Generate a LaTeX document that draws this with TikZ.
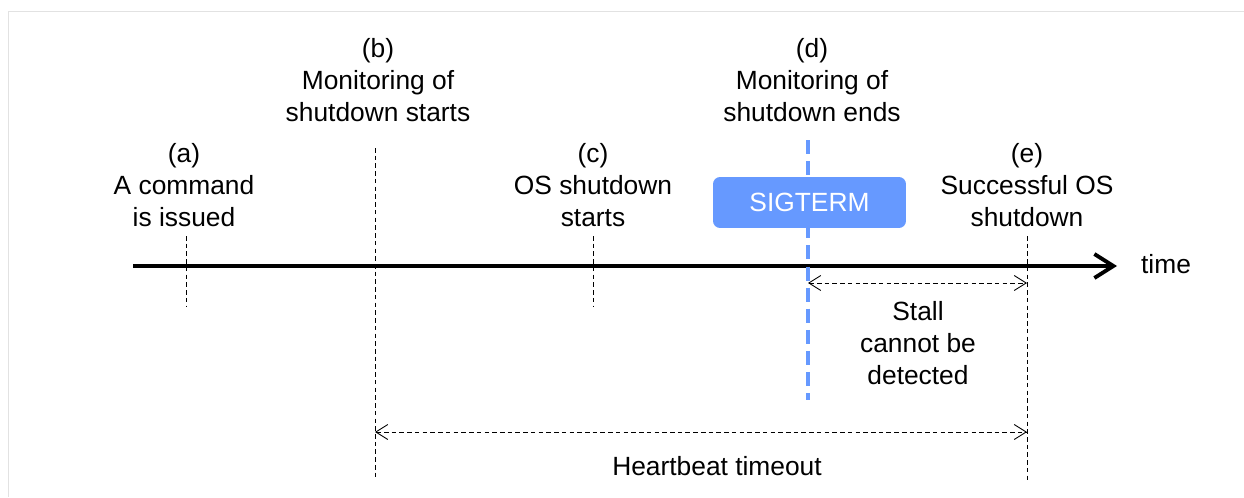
\documentclass[tikz,border=0pt]{standalone}
\usepackage{fontspec}
\setmainfont{Liberation Sans}
\usetikzlibrary{positioning,arrows.meta}
\definecolor{sigblue}{RGB}{102,153,255}
\definecolor{framegray}{RGB}{226,226,226}
\tikzset{
  timearrow/.style={-{Straight Barb[length=3.8mm,width=4.8mm]}, line width=2.2pt},
  tickline/.style={line width=0.5pt, dash pattern=on 2.6pt off 1.8pt},
  sigline/.style={sigblue, line width=1.9pt, dash pattern=on 8pt off 4pt},
  spanarrow/.style={{Straight Barb[length=2.4mm,width=3mm]}-{Straight Barb[length=2.4mm,width=3mm]}, line width=0.5pt, dash pattern=on 2.6pt off 1.8pt},
  eventlabel/.style={align=center, inner sep=0pt, font=\fontsize{15}{18.2}\selectfont},
  sigbox/.style={rounded corners=4pt, fill=sigblue, text=white, minimum width=3.86cm, minimum height=1.02cm, font=\fontsize{15}{18.2}\selectfont}
}

\begin{document}
\begin{tikzpicture}[x=0.02cm, y=-0.02cm]
  \useasboundingbox (0,0) rectangle (1244,497);
  \draw[framegray] (8,497) -- (8,11) -- (1244,11);

  % event labels
  \node[eventlabel] (la) at (184,185) {(a)\\A command\\is issued};
  \node[eventlabel] (lb) at (378,80) {(b)\\Monitoring of\\shutdown starts};
  \node[eventlabel] (lc) at (593,185) {(c)\\OS shutdown\\starts};
  \node[eventlabel] (ld) at (812,80) {(d)\\Monitoring of\\shutdown ends};
  \node[eventlabel] (le) at (1027,185) {(e)\\Successful OS\\shutdown};

  % tick lines
  \coordinate (a1) at (186,236); \coordinate (a2) at (186,306);
  \coordinate (b1) at (375,148); \coordinate (b2) at (375,480);
  \coordinate (c1) at (593,236); \coordinate (c2) at (593,306);
  \coordinate (d1) at (808,140); \coordinate (d2) at (808,400);
  \coordinate (e1) at (1027,236); \coordinate (e2) at (1027,480);
  \draw[tickline] (a1) -- (a2);
  \draw[tickline] (b1) -- (b2);
  \draw[tickline] (c1) -- (c2);
  \draw[tickline] (e1) -- (e2);

  \coordinate (t0) at (133,266);
  \coordinate (t1) at (1117,266);
  \draw[timearrow] (t0) -- (t1);
  \node[eventlabel] (time) at (1166,264) {time};

  \draw[sigline] (d1) -- (d2);
  \node[sigbox] (sig) at (809.5,202.5) {SIGTERM};

  % spans
  \coordinate (s0) at (808,283); \coordinate (s1) at (1027,283);
  \draw[spanarrow] (s0) -- (s1);
  \node[eventlabel] (stall) at (918,343) {Stall\\cannot be\\detected};

  \coordinate (h0) at (375,432); \coordinate (h1) at (1027,432);
  \draw[spanarrow] (h0) -- (h1);
  \node[eventlabel] (hb) at (717,466) {Heartbeat timeout};
\end{tikzpicture}
\end{document}
